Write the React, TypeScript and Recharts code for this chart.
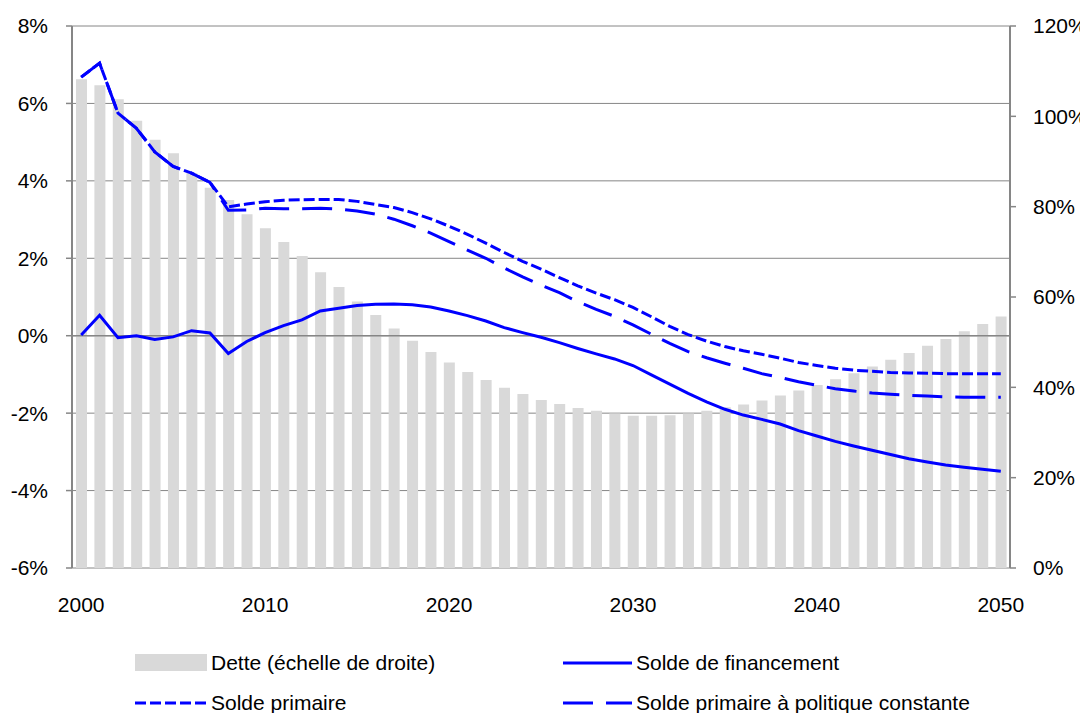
import React from "react";
import {
  ComposedChart,
  Bar,
  Line,
  XAxis,
  YAxis,
  CartesianGrid,
  ReferenceLine,
  Legend,
} from "recharts";

const years = [
  2000, 2001, 2002, 2003, 2004, 2005, 2006, 2007, 2008, 2009,
  2010, 2011, 2012, 2013, 2014, 2015, 2016, 2017, 2018, 2019,
  2020, 2021, 2022, 2023, 2024, 2025, 2026, 2027, 2028, 2029,
  2030, 2031, 2032, 2033, 2034, 2035, 2036, 2037, 2038, 2039,
  2040, 2041, 2042, 2043, 2044, 2045, 2046, 2047, 2048, 2049, 2050,
];

// Dette (échelle de droite), % du PIB
const dette = [
  108.2, 106.9, 103.8, 99.0, 94.8, 91.8, 87.4, 84.2, 81.5, 78.3,
  75.2, 72.2, 69.1, 65.5, 62.2, 59.0, 56.0, 53.0, 50.3, 47.8,
  45.5, 43.4, 41.6, 39.9, 38.5, 37.2, 36.3, 35.4, 34.8, 34.2,
  33.7, 33.7, 33.8, 34.2, 34.8, 35.6, 36.2, 37.1, 38.2, 39.3,
  40.5, 41.8, 43.1, 44.6, 46.1, 47.6, 49.2, 50.7, 52.4, 54.0, 55.7,
];

// Solde de financement, %
const soldeFinancement = [
  0.02, 0.53, -0.05, 0.0, -0.1, -0.03, 0.13, 0.07, -0.46, -0.15,
  0.08, 0.26, 0.41, 0.64, 0.71, 0.78, 0.81, 0.82, 0.8, 0.74,
  0.64, 0.52, 0.38, 0.21, 0.08, -0.04, -0.18, -0.33, -0.47, -0.6,
  -0.77, -1.01, -1.25, -1.49, -1.71, -1.9, -2.05, -2.16, -2.28, -2.45,
  -2.59, -2.73, -2.85, -2.96, -3.07, -3.18, -3.26, -3.34, -3.4, -3.45, -3.5,
];

// Solde primaire, %
const soldePrimaire = [
  6.68, 7.04, 5.75, 5.36, 4.75, 4.37, 4.2, 3.96, 3.33, 3.4,
  3.46, 3.5, 3.51, 3.52, 3.52, 3.47, 3.39, 3.31, 3.18, 3.02,
  2.83, 2.62, 2.39, 2.15, 1.92, 1.72, 1.5, 1.29, 1.1, 0.93,
  0.73, 0.49, 0.24, 0.03, -0.14, -0.28, -0.39, -0.48, -0.58, -0.69,
  -0.77, -0.84, -0.89, -0.92, -0.95, -0.96, -0.97, -0.98, -0.98, -0.98, -0.98,
];

// Solde primaire à politique constante, %
const soldePrimaireConstant = [
  6.68, 7.04, 5.75, 5.36, 4.75, 4.37, 4.2, 3.96, 3.24, 3.25,
  3.29, 3.28, 3.28, 3.29, 3.27, 3.22, 3.14, 3.01, 2.84, 2.65,
  2.43, 2.21, 2.0, 1.75, 1.52, 1.31, 1.11, 0.88, 0.68, 0.5,
  0.28, 0.04, -0.2, -0.41, -0.57, -0.71, -0.84, -0.98, -1.08, -1.19,
  -1.28, -1.37, -1.43, -1.48, -1.51, -1.54, -1.56, -1.58, -1.59, -1.59, -1.59,
];

const xTicks = [2000, 2010, 2020, 2030, 2040, 2050];
const leftTicks = [-6, -4, -2, 0, 2, 4, 6, 8];
const rightTicks = [0, 20, 40, 60, 80, 100, 120];

const labels = {
  dette: "Dette (échelle de droite)",
  financement: "Solde de financement",
  primaire: "Solde primaire",
  constant: "Solde primaire à politique constante",
};

const data = years.map((year, i) => ({
  year,
  dette: dette[i],
  financement: soldeFinancement[i],
  primaire: soldePrimaire[i],
  constant: soldePrimaireConstant[i],
}));

const FONT = '"Liberation Sans", Arial, sans-serif';
const BLUE = "#0000FF";
const GRID = "#868686";
const BAR = "#D9D9D9";
const DOT_DASH = "11 4";
const LONG_DASH = "30 13";

const textStyle: React.CSSProperties = {
  position: "absolute",
  fontFamily: FONT,
  fontSize: 21,
  lineHeight: "24px",
  color: "#000",
  whiteSpace: "nowrap",
};

function LegendContent() {
  const rows = [
    { top: 43, items: [
      { x: 127, w: 72, textX: 203, kind: "bar", label: labels.dette },
      { x: 555, w: 69, textX: 628, kind: "solid", label: labels.financement },
    ] },
    { top: 83, items: [
      { x: 127, w: 72, textX: 203, kind: "dot", label: labels.primaire },
      { x: 555, w: 69, textX: 628, kind: "long", label: labels.constant },
    ] },
  ];
  return (
    <div style={{ position: "relative", width: 1080, height: 105 }}>
      {rows.map((row, ri) =>
        row.items.map((it, ii) => (
          <React.Fragment key={`${ri}-${ii}`}>
            <svg
              style={{ position: "absolute", left: it.x, top: row.top }}
              width={it.w}
              height={24}
            >
              {it.kind === "bar" ? (
                <rect x={0} y={3} width={it.w} height={17} fill={BAR} />
              ) : (
                <line
                  x1={0}
                  x2={it.w}
                  y1={12}
                  y2={12}
                  stroke={BLUE}
                  strokeWidth={3}
                  strokeDasharray={
                    it.kind === "dot" ? DOT_DASH : it.kind === "long" ? LONG_DASH : undefined
                  }
                />
              )}
            </svg>
            <div style={{ ...textStyle, left: it.textX, top: row.top }}>{it.label}</div>
          </React.Fragment>
        ))
      )}
    </div>
  );
}

export default function App() {
  return (
    <div style={{ width: 1080, height: 705, fontFamily: FONT }}>
      <ComposedChart
        width={1080}
        height={705}
        data={data}
        margin={{ top: 18, right: 0, bottom: 0, left: 0 }}
      >
        <CartesianGrid
          vertical={false}
          stroke={GRID}
          strokeWidth={1}
          yAxisId="left"
        />
        <XAxis
          dataKey="year"
          ticks={xTicks}
          interval={0}
          axisLine={false}
          tickLine={false}
          tickSize={0}
          tickMargin={29}
          height={40}
          tick={{ fill: "#000", fontSize: 21, fontFamily: FONT }}
        />
        <YAxis
          yAxisId="left"
          orientation="left"
          domain={[-6, 8]}
          ticks={leftTicks}
          interval={0}
          width={64}
          tickSize={6}
          tickMargin={18}
          axisLine={{ stroke: GRID, strokeWidth: 2 }}
          tickLine={{ stroke: GRID, strokeWidth: 1.5 }}
          tickFormatter={(v: number) => `${v}%`}
          tick={{ fill: "#000", fontSize: 21, fontFamily: FONT }}
          allowDataOverflow
        />
        <YAxis
          yAxisId="right"
          orientation="right"
          domain={[0, 120]}
          ticks={rightTicks}
          interval={0}
          width={78}
          tickSize={6}
          tickMargin={17}
          axisLine={{ stroke: GRID, strokeWidth: 2 }}
          tickLine={{ stroke: GRID, strokeWidth: 1.5 }}
          tickFormatter={(v: number) => `${v}%`}
          tick={{ fill: "#000", fontSize: 21, fontFamily: FONT }}
          allowDataOverflow
        />
        <Bar
          yAxisId="right"
          dataKey="dette"
          name={labels.dette}
          fill={BAR}
          barSize={11}
          isAnimationActive={false}
        />
        <ReferenceLine yAxisId="left" y={0} stroke={GRID} strokeWidth={1.5} />
        <Line
          yAxisId="left"
          type="linear"
          dataKey="primaire"
          name={labels.primaire}
          stroke={BLUE}
          strokeWidth={3}
          strokeDasharray={DOT_DASH}
          dot={false}
          activeDot={false}
          isAnimationActive={false}
        />
        <Line
          yAxisId="left"
          type="linear"
          dataKey="constant"
          name={labels.constant}
          stroke={BLUE}
          strokeWidth={3}
          strokeDasharray={LONG_DASH}
          dot={false}
          activeDot={false}
          isAnimationActive={false}
        />
        <Line
          yAxisId="left"
          type="linear"
          dataKey="financement"
          name={labels.financement}
          stroke={BLUE}
          strokeWidth={3}
          dot={false}
          activeDot={false}
          isAnimationActive={false}
        />
        <Legend
          verticalAlign="bottom"
          height={105}
          wrapperStyle={{ left: 0, width: 1080, height: 105 }}
          content={() => <LegendContent />}
        />
      </ComposedChart>
    </div>
  );
}
